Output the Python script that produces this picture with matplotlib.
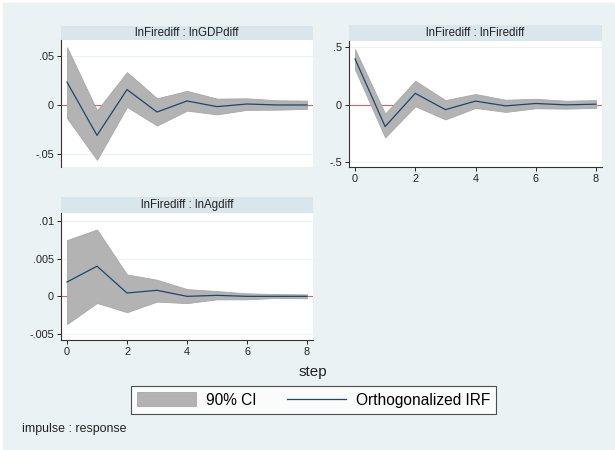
import matplotlib
matplotlib.use('Agg')
import matplotlib.pyplot as plt
from matplotlib.patches import Patch
from matplotlib.lines import Line2D
import numpy as np

plt.rcParams['font.family'] = ['Liberation Sans', 'DejaVu Sans']

steps = [0, 1, 2, 3, 4, 5, 6, 7, 8]

# lnFirediff : lnGDPdiff
gdp_irf = [0.0233, -0.031, 0.0157, -0.0072, 0.0041, -0.0017, 0.001, 0.0, 0.0]
gdp_hi = [0.059, -0.0055, 0.0335, 0.0068, 0.0144, 0.0065, 0.0068, 0.0048, 0.0044]
gdp_lo = [-0.0134, -0.056, -0.002, -0.021, -0.0058, -0.0096, -0.005, -0.0048, -0.004]

# lnFirediff : lnFirediff
fire_irf = [0.40, -0.193, 0.098, -0.045, 0.03, -0.012, 0.009, -0.003, 0.003]
fire_hi = [0.485, -0.08, 0.208, 0.039, 0.092, 0.042, 0.05, 0.033, 0.039]
fire_lo = [0.307, -0.289, -0.015, -0.131, -0.03, -0.065, -0.033, -0.036, -0.03]

# lnFirediff : lnAgdiff
ag_irf = [0.0019, 0.004, 0.00044, 0.0008, 0.0, 0.00013, 0.0, 0.0, 0.0]
ag_hi = [0.00746, 0.00886, 0.0029, 0.0022, 0.00096, 0.0007, 0.0004, 0.0003, 0.00026]
ag_lo = [-0.00368, -0.00088, -0.0021, -0.0007, -0.0009, -0.0004, -0.0004, -0.0002, -0.00026]

BG = '#eaf2f3'
STRIP = '#d9e6eb'
BAND = '#b3b3b3'
NAVY = '#1a476f'
RED = '#d9606a'

W, H = 615, 450
fig = plt.figure(figsize=(W / 100, H / 100), dpi=100, facecolor=BG)

# thin white edge at top and left, like the exported picture
fig.add_artist(Line2D([0, 1], [1, 1], transform=fig.transFigure, color='white', lw=4))
fig.add_artist(Line2D([0, 0], [0, 1], transform=fig.transFigure, color='white', lw=4))


def px_axes(x0, y0, x1, y1):
    # pixel box (top-left origin) -> figure axes
    return fig.add_axes([x0 / W, 1 - y1 / H, (x1 - x0) / W, (y1 - y0) / H])


def panel(box, strip_top, title, irf, lo, hi, yticks, ylabels, ylim, show_x):
    x0, y0, x1, y1 = box
    st = px_axes(x0, strip_top, x1, y0)
    st.set_facecolor(STRIP)
    st.set_xticks([])
    st.set_yticks([])
    for s in st.spines.values():
        s.set_visible(False)
    st.text(0.5, 0.5, title, ha='center', va='center', fontsize=8.3, color='#222222')

    ax = px_axes(x0, y0, x1, y1)
    ax.set_facecolor('white')
    ax.fill_between(steps, lo, hi, color=BAND, lw=0.6, edgecolor='#a8a8a8', zorder=2)
    ax.plot(steps, irf, color=NAVY, lw=0.9, zorder=3)
    ax.axhline(0, color=RED, lw=0.8, zorder=1.5)
    ax.set_xlim(-0.2, 8.2)
    ax.set_ylim(*ylim)
    ax.set_yticks(yticks)
    ax.set_yticklabels(ylabels)
    ax.grid(axis='y', color=BG, lw=0.8, zorder=0)
    ax.set_axisbelow(True)
    ax.spines['top'].set_visible(False)
    ax.spines['right'].set_visible(False)
    ax.spines['left'].set_color('#333333')
    ax.spines['left'].set_linewidth(0.8)
    ax.tick_params(axis='y', labelsize=7.8, length=3, width=0.7, pad=2, colors='#222222')
    if show_x:
        ax.set_xticks([0, 2, 4, 6, 8])
        ax.spines['bottom'].set_color('#333333')
        ax.spines['bottom'].set_linewidth(0.8)
        ax.tick_params(axis='x', labelsize=7.8, length=3, width=0.7, pad=2, colors='#222222')
    else:
        ax.set_xticks([])
        ax.spines['bottom'].set_visible(False)
    return ax


panel((61, 40, 313, 167), 26, 'lnFirediff : lnGDPdiff', gdp_irf, gdp_lo, gdp_hi,
      [-0.05, 0, 0.05], ['-.05', '0', '.05'], (-0.0633, 0.0663), False)
panel((349, 41, 602, 167), 25, 'lnFirediff : lnFirediff', fire_irf, fire_lo, fire_hi,
      [-0.5, 0, 0.5], ['-.5', '0', '.5'], (-0.548, 0.557), True)
panel((61, 213, 313, 340), 197, 'lnFirediff : lnAgdiff', ag_irf, ag_lo, ag_hi,
      [-0.005, 0, 0.005, 0.01], ['-.005', '0', '.005', '.01'], (-0.00579, 0.01105), True)

fig.text(313 / W, 1 - 372 / H, 'step', ha='center', va='center', fontsize=11, color='#222222')
fig.text(22 / W, 1 - 429 / H, 'impulse : response', ha='left', va='center', fontsize=8.9, color='#222222')

handles = [Patch(facecolor=BAND, edgecolor='#a8a8a8', lw=0.6),
           Line2D([0], [0], color=NAVY, lw=0.9)]
leg = fig.legend(handles, ['90% CI', 'Orthogonalized IRF'], ncol=2,
                 loc='center', bbox_to_anchor=(313.5 / W, 1 - 400 / H),
                 fontsize=11.2, frameon=True, fancybox=False,
                 handlelength=3.8, handleheight=1.0, handletextpad=0.6, columnspacing=2.0,
                 borderpad=0.42, borderaxespad=0)
leg.get_frame().set_edgecolor('#222222')
leg.get_frame().set_linewidth(0.8)
leg.get_frame().set_facecolor('white')

fig.savefig('out.png', dpi=100, facecolor=BG)
